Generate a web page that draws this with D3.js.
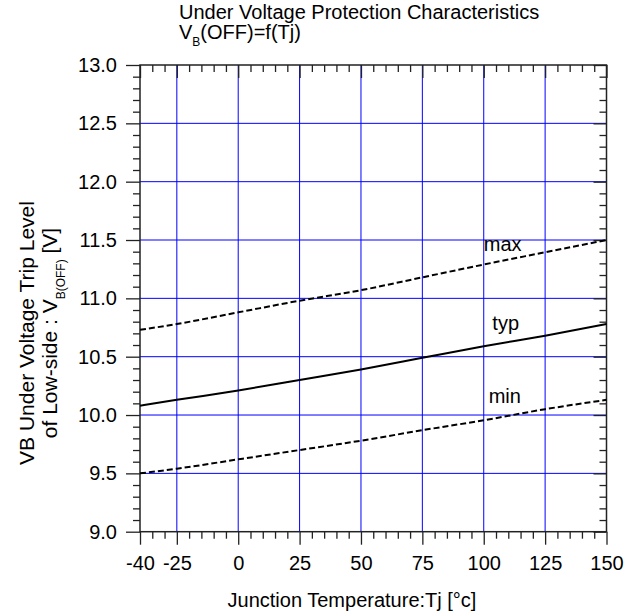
<!DOCTYPE html>
<html>
<head>
<meta charset="utf-8">
<script src="https://cdn.jsdelivr.net/npm/d3@7/dist/d3.min.js"></script>
<style>
  html, body { margin: 0; padding: 0; background: #fff; }
  svg { display: block; font-family: "Liberation Sans", Arial, sans-serif; }
</style>
</head>
<body>
<svg id="chart" width="641" height="616"></svg>
<script>
// ---- data ----
const temps = [-40, -25, 0, 25, 50, 75, 100, 125, 150];
const vMax  = [10.73, 10.78, 10.88, 10.98, 11.07, 11.18, 11.29, 11.395, 11.50];
const vTyp  = [10.08, 10.13, 10.21, 10.30, 10.39, 10.49, 10.59, 10.68, 10.78];
const vMin  = [9.50, 9.54, 9.62, 9.70, 9.78, 9.87, 9.955, 10.05, 10.13];
const seriesNames = ["max", "typ", "min"];
const labelT = [100, 103.5, 102];
const labelV = [11.41, 10.725, 10.10];
const xTicks = [-40, -25, 0, 25, 50, 75, 100, 125, 150];
const xGrid = [-25, 0, 25, 50, 75, 100, 125];
const yTicks = [9.0, 9.5, 10.0, 10.5, 11.0, 11.5, 12.0, 12.5, 13.0];
const yGrid = [9.5, 10.0, 10.5, 11.0, 11.5, 12.0, 12.5];
const xMinorStep = 5, yMinorStep = 0.1;

// ---- layout ----
const L = 140, R = 606.5, T = 65, B = 531.7;
const svg = d3.select("#chart");
const x = d3.scaleLinear().domain([-40, 150]).range([L, R]);
const y = d3.scaleLinear().domain([9, 13]).range([B, T]);

const xMinor = d3.range(-40, 150.001, xMinorStep).filter(v => !xTicks.includes(v));
const yMinor = d3.range(90, 130.001, yMinorStep * 10).map(v => Math.round(v) / 10).filter(v => !yTicks.some(t => Math.abs(t - v) < 1e-6));

// grid
svg.append("g").selectAll("line").data(xGrid).join("line")
  .attr("x1", d => x(d)).attr("x2", d => x(d)).attr("y1", T).attr("y2", B)
  .attr("stroke", "#0000ff").attr("stroke-width", 1);
svg.append("g").selectAll("line").data(yGrid).join("line")
  .attr("y1", d => y(d)).attr("y2", d => y(d)).attr("x1", L).attr("x2", R)
  .attr("stroke", "#0000ff").attr("stroke-width", 1);

const axisColor = "#222";
function styleAxis(g) {
  g.select(".domain").remove();
  g.selectAll(".tick line").attr("stroke", axisColor).attr("stroke-width", 1.3);
}
// bottom major (outward) with labels
const gB = svg.append("g").attr("transform", `translate(0,${B})`)
  .call(d3.axisBottom(x).tickValues(xTicks).tickSize(13).tickPadding(11).tickFormat(d => String(d)));
styleAxis(gB);
gB.selectAll("text").attr("font-size", 20).attr("fill", "#000").attr("font-family", "Liberation Sans, Arial, sans-serif");
const gBm = svg.append("g").attr("transform", `translate(0,${B})`)
  .call(d3.axisBottom(x).tickValues(xMinor).tickSize(7).tickFormat(""));
styleAxis(gBm);
// top (inward)
const gT = svg.append("g").attr("transform", `translate(0,${T})`)
  .call(d3.axisBottom(x).tickValues(xTicks).tickSize(13).tickFormat(""));
styleAxis(gT);
const gTm = svg.append("g").attr("transform", `translate(0,${T})`)
  .call(d3.axisBottom(x).tickValues(xMinor).tickSize(7).tickFormat(""));
styleAxis(gTm);
// left (outward) with labels
const gL = svg.append("g").attr("transform", `translate(${L},0)`)
  .call(d3.axisLeft(y).tickValues(yTicks).tickSize(14).tickPadding(9).tickFormat(d => d.toFixed(1)));
styleAxis(gL);
gL.selectAll("text").attr("font-size", 20).attr("fill", "#000").attr("font-family", "Liberation Sans, Arial, sans-serif");
const gLm = svg.append("g").attr("transform", `translate(${L},0)`)
  .call(d3.axisLeft(y).tickValues(yMinor).tickSize(7).tickFormat(""));
styleAxis(gLm);
// right (inward)
const gR = svg.append("g").attr("transform", `translate(${R},0)`)
  .call(d3.axisLeft(y).tickValues(yTicks).tickSize(13).tickFormat(""));
styleAxis(gR);
const gRm = svg.append("g").attr("transform", `translate(${R},0)`)
  .call(d3.axisLeft(y).tickValues(yMinor).tickSize(7).tickFormat(""));
styleAxis(gRm);

// frame
svg.append("rect").attr("x", L).attr("y", T).attr("width", R - L).attr("height", B - T)
  .attr("fill", "none").attr("stroke", axisColor).attr("stroke-width", 1.5);

// curves
const seriesVals = [vMax, vTyp, vMin];
const line = d3.line().x(d => x(d[0])).y(d => y(d[1])).curve(d3.curveMonotoneX);
seriesVals.forEach((vals, i) => {
  svg.append("path")
    .datum(temps.map((t, j) => [t, vals[j]]))
    .attr("d", line)
    .attr("fill", "none")
    .attr("stroke", "#000")
    .attr("stroke-width", 2)
    .attr("stroke-dasharray", seriesNames[i] === "typ" ? null : "6,3");
  svg.append("text")
    .attr("x", x(labelT[i])).attr("y", y(labelV[i]))
    .attr("font-size", 20).attr("fill", "#000")
    .text(seriesNames[i]);
});

// title
svg.append("text").attr("x", 179).attr("y", 18.5).attr("font-size", 20).attr("fill", "#000")
  .text("Under Voltage Protection Characteristics");
const t2 = svg.append("text").attr("x", 179).attr("y", 38.5).attr("font-size", 20).attr("fill", "#000");
t2.append("tspan").text("V");
t2.append("tspan").attr("font-size", 12).attr("dy", 7).text("B");
t2.append("tspan").attr("dy", -7).text("(OFF)=f(Tj)");

// x axis title
svg.append("text").attr("x", 352).attr("y", 607).attr("text-anchor", "middle")
  .attr("font-size", 20).attr("fill", "#000").text("Junction Temperature:Tj [°c]");

// y axis title
const yl = svg.append("g").attr("transform", "translate(0,333) rotate(-90)");
yl.append("text").attr("x", 0).attr("y", 34).attr("text-anchor", "middle")
  .attr("font-size", 21).attr("fill", "#000").text("VB Under Voltage Trip Level");
const yl2 = yl.append("text").attr("x", 0).attr("y", 57).attr("text-anchor", "middle")
  .attr("font-size", 21).attr("fill", "#000");
yl2.append("tspan").text("of Low-side : V");
yl2.append("tspan").attr("font-size", 12).attr("dy", 8).text("B(OFF)");
yl2.append("tspan").attr("dy", -8).text(" [V]");
</script>
</body>
</html>
